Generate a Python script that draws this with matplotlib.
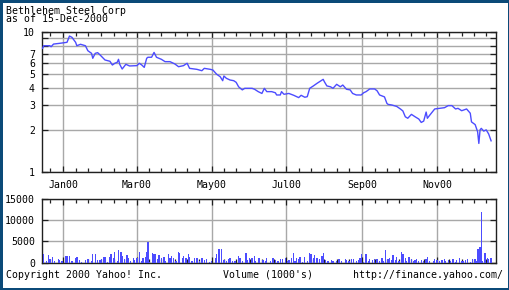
import matplotlib
matplotlib.use("Agg")
import matplotlib.pyplot as plt
import matplotlib.dates as mdates
import matplotlib.ticker as mticker
import pandas as pd

# ---------------- data ----------------
title = "Bethlehem Steel Corp"
subtitle = "as of 15-Dec-2000"
start_date = "1999-12-15"

price_days = [0, 1, 6, 7, 9, 14, 20, 22, 24, 27, 28, 31, 35, 37, 40, 41, 43, 45, 47, 51,
              55, 57, 59, 61, 62, 63, 65, 68, 71, 77, 79, 81, 83, 85, 86, 89, 91, 93, 97, 100,
              104, 108, 111, 115, 118, 120, 126, 130, 132, 137, 139, 142, 145, 147, 148, 150, 153, 156, 158, 160,
              163, 165, 171, 173, 176, 179, 181, 183, 187, 190, 191, 194, 195, 197, 201, 205, 209, 211, 214, 216,
              218, 221, 224, 226, 229, 230, 232, 235, 237, 240, 243, 245, 248, 251, 253, 256, 260, 262, 264, 267,
              271, 273, 275, 279, 281, 282, 285, 289, 292, 294, 296, 298, 301, 304, 307, 309, 311, 313, 314, 316,
              320, 324, 328, 331, 334, 337, 339, 342, 346, 349, 350, 353, 355, 356, 357, 358, 360, 362, 364, 366]
price_values = [7.65, 7.98, 7.98, 7.85, 8.2, 8.3, 8.44, 9.36, 9.16, 8.44, 7.98, 8.17, 7.98, 7.35, 7.04, 6.49, 7.04, 7.12, 6.85, 6.31,
                6.18, 5.81, 5.98, 6.08, 6.38, 5.88, 5.44, 5.88, 5.72, 5.75, 5.98, 5.81, 5.59, 6.49, 6.6, 6.6, 7.15, 6.6, 6.38, 6.14,
                6.14, 5.91, 5.65, 5.75, 5.98, 5.50, 5.41, 5.29, 5.50, 5.41, 5.35, 5.0, 4.79, 4.49, 4.85, 4.67, 4.54, 4.49, 4.37, 4.06,
                3.86, 3.96, 3.96, 3.90, 3.75, 3.64, 3.96, 3.75, 3.75, 3.68, 3.55, 3.55, 3.75, 3.59, 3.64, 3.53, 3.40, 3.53, 3.42, 3.45,
                3.96, 4.12, 4.30, 4.41, 4.59, 4.41, 4.12, 4.06, 3.96, 4.23, 4.06, 4.18, 3.90, 3.86, 3.64, 3.55, 3.55, 3.68, 3.75, 3.92,
                3.92, 3.80, 3.55, 3.44, 3.09, 3.04, 3.01, 2.94, 2.82, 2.73, 2.48, 2.42, 2.58, 2.48, 2.39, 2.26, 2.31, 2.68, 2.42, 2.55,
                2.82, 2.85, 2.88, 2.98, 2.98, 2.82, 2.85, 2.74, 2.82, 2.63, 2.28, 2.18, 1.94, 1.60, 2.0, 2.05, 1.96, 2.0, 1.87, 1.67]

vol_days = [1, 3, 5, 6, 8, 10, 13, 14, 16, 19, 20, 22, 24, 27, 28, 30, 32, 35, 37, 40,
            41, 43, 45, 47, 48, 50, 51, 53, 55, 56, 58, 59, 61, 62, 64, 65, 67, 69, 70, 72,
            74, 75, 77, 79, 81, 82, 84, 85, 86, 87, 90, 91, 92, 94, 95, 97, 99, 100, 103, 104,
            105, 107, 109, 111, 112, 114, 115, 117, 119, 120, 122, 124, 126, 128, 130, 132, 134, 136, 138, 141,
            142, 144, 146, 148, 150, 152, 153, 155, 157, 160, 161, 163, 166, 167, 169, 171, 173, 174, 176, 177,
            180, 182, 183, 186, 188, 190, 192, 194, 196, 198, 200, 201, 203, 205, 206, 207, 209, 210, 212, 214,
            216, 218, 219, 221, 222, 224, 226, 228, 229, 231, 233, 236, 237, 240, 242, 244, 247, 248, 250, 252,
            254, 256, 258, 259, 260, 262, 264, 266, 267, 269, 271, 273, 275, 277, 278, 280, 282, 283, 285, 286,
            288, 289, 291, 293, 294, 296, 297, 299, 301, 303, 304, 305, 307, 309, 311, 313, 314, 316, 319, 320,
            322, 324, 326, 328, 329, 331, 333, 335, 337, 338, 340, 342, 343, 345, 347, 349, 351, 353, 354, 355,
            356, 357, 358, 359, 361, 363, 364, 366]
vol_values = [2000, 500, 1900, 800, 1300, 300, 900, 700, 500, 1500, 1600, 1600, 400, 1200, 1300, 600, 200, 600, 900, 400,
              2000, 2000, 600, 700, 900, 1300, 1300, 200, 1300, 2100, 1000, 2500, 500, 3100, 2500, 1500, 800, 1700, 1000, 300,
              1000, 600, 1100, 2500, 400, 1000, 1400, 2500, 4800, 200, 2300, 2000, 2100, 800, 1700, 1100, 1300, 500, 2000, 1000,
              1500, 1000, 300, 2600, 2300, 1000, 1500, 1000, 2000, 1400, 400, 1000, 1000, 300, 1200, 600, 800, 200, 500, 1000,
              2000, 3200, 3200, 700, 300, 800, 1000, 500, 300, 1600, 1000, 400, 2200, 600, 1000, 1100, 1600, 500, 1200, 1000,
              700, 400, 1000, 400, 1000, 600, 400, 900, 800, 1000, 300, 700, 1000, 2200, 400, 1000, 800, 1300, 200, 1300,
              500, 2300, 2000, 1000, 1800, 1000, 800, 1500, 2400, 600, 500, 700, 500, 400, 800, 500, 900, 600, 300, 900,
              800, 400, 700, 1000, 2000, 200, 2000, 500, 800, 700, 900, 800, 400, 1000, 500, 3000, 900, 1200, 700, 1700,
              600, 1300, 300, 2500, 2000, 1200, 500, 1400, 800, 400, 600, 900, 500, 600, 300, 900, 1400, 300, 500, 900,
              600, 300, 600, 800, 400, 600, 500, 900, 200, 600, 1000, 300, 500, 700, 900, 200, 900, 900, 400, 3300,
              3300, 3600, 11900, 400, 2200, 1000, 900, 1200]

month_tick_dates = ["2000-01-01", "2000-03-01", "2000-05-01", "2000-07-01", "2000-09-01", "2000-11-01"]
month_tick_labels = ["Jan00", "Mar00", "May00", "Jul00", "Sep00", "Nov00"]
price_tick_values = [1, 2, 3, 4, 5, 6, 7, 8, 9, 10]
price_tick_labels = ["1", "2", "3", "4", "5", "6", "7", "", "", "10"]
vol_tick_values = [0, 5000, 10000, 15000]
vol_tick_labels = ["0", "5000", "10000", "15000"]
footer_left = "Copyright 2000 Yahoo! Inc."
footer_mid = "Volume (1000's)"
footer_right = "http://finance.yahoo.com/"

# ---------------- style ----------------
FONT = "DejaVu Sans Mono"
FS = 7.1
LINE_C = "#4c4cff"
GRID_C = "#a8a8a8"
FRAME_C = "#202020"
BORDER_C = "#0b4a78"

plt.rcParams["font.family"] = [FONT, "DejaVu Sans"]
plt.rcParams["font.size"] = FS

base = pd.Timestamp(start_date)
p_dates = mdates.date2num(base + pd.to_timedelta(price_days, unit="D"))
v_dates = mdates.date2num(base + pd.to_timedelta(vol_days, unit="D"))
x_left = mdates.date2num(base - pd.Timedelta(hours=10))
x_right = mdates.date2num(base + pd.Timedelta(days=370))

major_x = mdates.date2num(pd.to_datetime(month_tick_dates))
minor_x = []
for m in pd.date_range("1999-12-01", "2000-12-01", freq="MS"):
    for d in (1, 11, 21):
        t = mdates.date2num(m + pd.Timedelta(days=d - 1))
        if x_left <= t <= x_right and not any(abs(t - mx) < 0.5 for mx in major_x):
            minor_x.append(t)

fig = plt.figure(figsize=(5.1, 2.9), dpi=100, facecolor="white")
fig.patch.set_edgecolor(BORDER_C)
fig.patch.set_linewidth(3.6)

W, H = 510.0, 290.0
ax = fig.add_axes([42 / W, (H - 172) / H, 454 / W, 140 / H])
axv = fig.add_axes([42 / W, (H - 262.7) / H, 454 / W, 63.7 / H])


def style(a):
    for s in a.spines.values():
        s.set_color(FRAME_C)
        s.set_linewidth(1.0)
    a.set_xlim(x_left, x_right)
    a.set_xticks(major_x)
    a.set_xticks(minor_x, minor=True)
    a.tick_params(axis="both", which="both", direction="in", top=True, right=True,
                  colors=FRAME_C, labelcolor="black", width=0.9, labelsize=FS)
    a.tick_params(axis="x", which="major", length=4, pad=6)
    a.tick_params(axis="x", which="minor", length=3)
    a.tick_params(axis="y", which="major", length=4, pad=5)
    a.grid(True, axis="x", which="major", color=GRID_C, linewidth=1.0)
    a.grid(True, axis="y", which="major", color=GRID_C, linewidth=1.0)
    a.set_axisbelow(True)


# price
ax.plot(p_dates, price_values, color=LINE_C, linewidth=1.0, zorder=3)
ax.set_yscale("log")
ax.set_ylim(1, 10)
style(ax)
ax.yaxis.set_major_locator(mticker.FixedLocator(price_tick_values))
ax.yaxis.set_major_formatter(mticker.FixedFormatter(price_tick_labels))
ax.yaxis.set_minor_locator(mticker.NullLocator())
ax.set_xticklabels(month_tick_labels)

# volume
axv.bar(v_dates, vol_values, width=1.1, color=LINE_C, linewidth=0, zorder=3)
axv.set_ylim(0, 15000)
style(axv)
axv.set_yticks(vol_tick_values)
axv.set_yticklabels(vol_tick_labels)
axv.set_xticklabels([])

# texts
fig.text(6 / W, 1 - 13.5 / H, title, ha="left", va="baseline", fontsize=FS)
fig.text(6 / W, 1 - 22.5 / H, subtitle, ha="left", va="baseline", fontsize=FS)
fig.text(6 / W, 1 - 277.7 / H, footer_left, ha="left", va="baseline", fontsize=FS)
fig.text(268 / W, 1 - 277.7 / H, footer_mid, ha="center", va="baseline", fontsize=FS)
fig.text(503.5 / W, 1 - 277.7 / H, footer_right, ha="right", va="baseline", fontsize=FS)

fig.savefig("out.png", dpi=100, facecolor=fig.get_facecolor(), edgecolor=fig.get_edgecolor())
